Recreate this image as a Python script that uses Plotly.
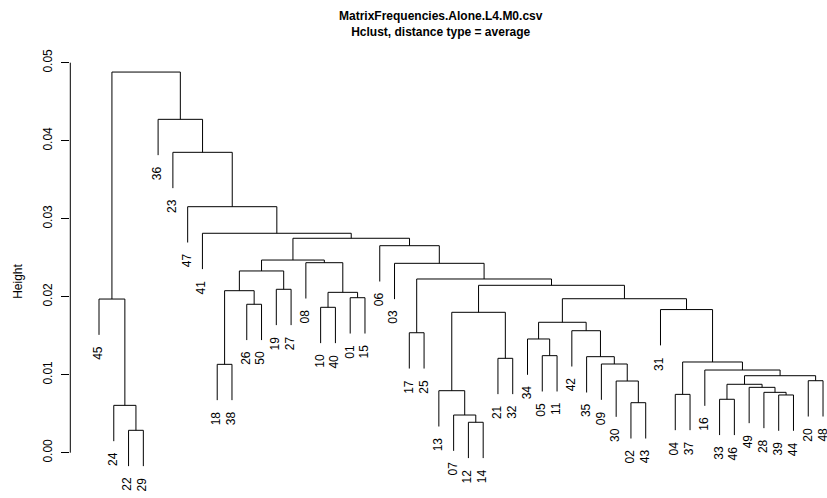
import plotly.graph_objects as go

# Leaf labels in dendrogram order (left to right)
leaf_labels = ["45", "24", "22", "29", "36", "23", "47", "41", "18", "38",
               "26", "50", "19", "27", "08", "10", "40", "01", "15", "06",
               "03", "17", "25", "13", "07", "12", "14", "21", "32", "34",
               "05", "11", "42", "35", "09", "30", "02", "43", "31", "04",
               "37", "16", "33", "46", "49", "28", "39", "44", "20", "48"]

# Merge table (R hclust style): negative = leaf position (1-based), positive = earlier merge row
merge_left = [-3, -2, -1, -9, -11, 4, -13, 6, -16, -18,
              9, -15, 8, -22, -26, -25, -24, -28, 17, -31,
              -30, -37, -36, -35, -34, -33, 21, -40, -47, -46,
              -45, -43, 32, -49, 33, -42, 28, -39, 27, 19,
              14, -21, -20, 13, -8, -7, -6, -5, 3]
merge_right = [-4, 1, 2, -10, -12, 5, -14, 7, -17, -19,
               10, 11, 12, -23, -27, 15, 16, -29, 18, -32,
               20, -38, 22, 23, 24, 25, 26, -41, -48, 29,
               30, -44, 31, -50, 34, 35, 36, 37, 38, 39,
               40, 41, 42, 43, 44, 45, 46, 47, 48]
merge_height = [0.00287, 0.00607, 0.0197, 0.01133, 0.01903, 0.02077, 0.02095, 0.0233, 0.01864, 0.01987,
                0.02056, 0.02436, 0.0247, 0.01538, 0.0039, 0.00483, 0.00795, 0.0121, 0.018, 0.01244,
                0.01458, 0.00641, 0.00919, 0.01137, 0.01231, 0.01564, 0.01672, 0.00748, 0.0074, 0.00774,
                0.00838, 0.00685, 0.00877, 0.00923, 0.00987, 0.0106, 0.01163, 0.01835, 0.01974, 0.02146,
                0.02227, 0.02428, 0.02654, 0.02749, 0.02813, 0.03154, 0.03851, 0.04274, 0.0488]

y_ticks = [0.00, 0.01, 0.02, 0.03, 0.04, 0.05]
y_tick_text = ["0.00", "0.01", "0.02", "0.03", "0.04", "0.05"]

title_lines = ["MatrixFrequencies.Alone.L4.M0.csv", "Hclust, distance type = average"]
y_title = "Height"

FONT = "Liberation Sans, Arial, Helvetica, sans-serif"
X_RANGE = [-0.9627, 50.269]
Y_RANGE = [-0.002218, 0.051628]

# --- build dendrogram segments ---
n = len(leaf_labels)
hang = 0.1 * (max(merge_height) - min(merge_height))
merge_x = []
leaf_bottom = [None] * n
xs, ys = [], []


def child(c, parent_h):
    if c < 0:
        return float(-c), parent_h - hang
    return merge_x[c - 1], merge_height[c - 1]


for l, r, h in zip(merge_left, merge_right, merge_height):
    xl, yl = child(l, h)
    xr, yr = child(r, h)
    if l < 0:
        leaf_bottom[-l - 1] = yl
    if r < 0:
        leaf_bottom[-r - 1] = yr
    xs += [xl, xl, xr, xr, None]
    ys += [yl, h, h, yr, None]
    merge_x.append((xl + xr) / 2)

fig = go.Figure()
fig.add_trace(go.Scatter(x=xs, y=ys, mode="lines",
                         line=dict(color="black", width=1),
                         hoverinfo="skip", showlegend=False))

annotations = []
for i, lab in enumerate(leaf_labels):
    annotations.append(dict(x=i + 1, y=leaf_bottom[i], xref="x", yref="y",
                            text=lab, textangle=-90, showarrow=False,
                            xanchor="center", yanchor="top", yshift=-9, xshift=-1,
                            font=dict(family=FONT, size=12, color="black")))

# y-axis title
annotations.append(dict(x=-0.069, y=0.022, xref="paper", yref="y",
                        text=y_title, textangle=-90, showarrow=False,
                        xanchor="center", yanchor="middle",
                        font=dict(family=FONT, size=12, color="black")))

# main title
annotations.append(dict(x=(441 - 70) / 757, y=(470 - 7) / 420, xref="paper", yref="paper",
                        text="<br>".join("<b>%s</b>" % t for t in title_lines),
                        showarrow=False, xanchor="center", yanchor="top",
                        font=dict(family=FONT, size=12, color="black")))


def y_to_paper(v):
    return (v - Y_RANGE[0]) / (Y_RANGE[1] - Y_RANGE[0])


fig.update_layout(
    width=827, height=498,
    margin=dict(l=70, r=0, t=50, b=28),
    paper_bgcolor="white", plot_bgcolor="white",
    annotations=annotations,
    shapes=[dict(type="line", xref="paper", yref="paper", x0=0.0004, x1=0.0004,
                 y0=y_to_paper(y_ticks[0]), y1=y_to_paper(y_ticks[-1]),
                 layer="above", line=dict(color="black", width=1))],
    xaxis=dict(range=X_RANGE, showgrid=False, zeroline=False,
               showticklabels=False, ticks="", showline=False),
    yaxis=dict(range=Y_RANGE, showgrid=False, zeroline=False,
               showline=False, ticks="outside", ticklen=8, tickwidth=1,
               tickcolor="black", tickvals=y_ticks, ticktext=y_tick_text,
               tickangle=-90, ticklabelstandoff=4,
               tickfont=dict(family=FONT, size=12, color="black")),
)

fig.write_html("out.html",
               config={"displayModeBar": False, "staticPlot": True},
               post_script="document.body.style.margin='0';document.body.style.overflow='hidden';")
